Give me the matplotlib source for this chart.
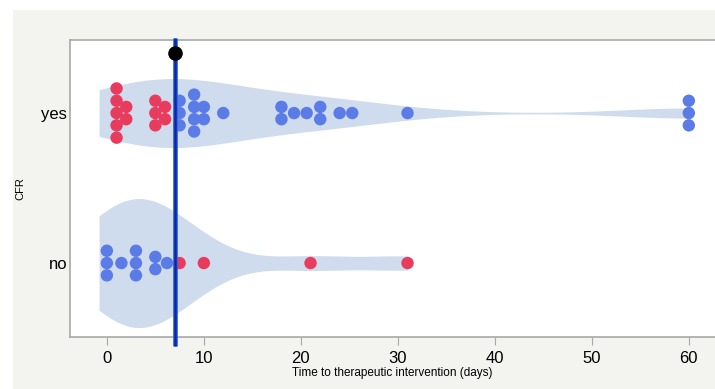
import numpy as np
import matplotlib
matplotlib.use("Agg")
import matplotlib.pyplot as plt
from matplotlib.patches import Rectangle
from matplotlib import font_manager

# ---------------- data ----------------
categories = ["no", "yes"]
yes_days = [1, 1, 1, 1, 1, 2, 2, 5, 5, 5, 6, 6, 7.5, 7.5, 7.5, 9, 9, 9, 9,
            10, 10, 12, 18, 18, 19.3, 20.6, 22, 22, 24, 25.3, 31, 60, 60, 60]
yes_late = [0] * 12 + [1] * 22
no_days = [0, 0, 0, 1.5, 3, 3, 3, 5, 5, 6.2, 7.5, 10, 21, 31]
no_late = [0] * 10 + [1] * 4
threshold_day = 7
xticks = [0, 10, 20, 30, 40, 50, 60]
xlabel = "Time to therapeutic intervention (days)"
ylabel = "CFR"

# ---------------- style ----------------
RED = "#e83c5e"
BLUE = "#5b7be6"
VIOLIN = "#cfdcee"
LINE = "#0b2a9e"
LINE_EDGE = "#2f63e6"
BG = "#f3f3ef"
SANS = ["Liberation Sans", "DejaVu Sans"]

names = {f.name for f in font_manager.fontManager.ttflist}
if "Liberation Sans Narrow" in names:
    xl_family, xl_size = ["Liberation Sans Narrow", "DejaVu Sans"], 10.3
else:
    xl_family, xl_size = SANS, 8.5

fig = plt.figure(figsize=(7.15, 3.89), dpi=100, facecolor="white")
fig.patches.append(Rectangle((13 / 715, 0), 1, (389 - 10) / 389,
                             transform=fig.transFigure, facecolor=BG,
                             edgecolor="none", zorder=-10))
ax = fig.add_axes([70 / 715, (389 - 337) / 389, 1 - 70 / 715, 297 / 389])
ax.set_facecolor("white")

def kde(data, grid, bw):
    d = np.asarray(data, float)
    return np.exp(-0.5 * ((grid[:, None] - d[None, :]) / bw) ** 2).sum(axis=1)

groups = [
    (no_days, no_late, 0, 0.43, 4.3),
    (yes_days, yes_late, 1, 0.23, 7.0),
]
kde_start = -0.8
step = 0.082  # vertical spacing of stacked dots

for days, late, ypos, halfw, bw in groups:
    grid = np.linspace(kde_start, max(days), 600)
    dens = kde(days, grid, bw)
    dens = dens / dens.max() * halfw
    ax.fill_between(grid, ypos - dens, ypos + dens, color=VIOLIN,
                    linewidth=0, zorder=1)
    days_arr = np.asarray(days, float)
    late_arr = np.asarray(late)
    red_flag = 1 if ypos == 0 else 0
    for v in np.unique(days_arr):
        idx = np.where(days_arr == v)[0]
        n = len(idx)
        offs = (np.arange(n) - (n - 1) / 2) * step
        cols = [RED if late_arr[i] == red_flag else BLUE for i in idx]
        ax.scatter(np.full(n, v), ypos + offs, s=80, c=cols,
                   edgecolors="none", zorder=3)

ax.plot([threshold_day, threshold_day], [-0.55, 1.5], color=LINE_EDGE, lw=3.4,
        zorder=4, clip_on=False, solid_capstyle="butt")
ax.plot([threshold_day, threshold_day], [-0.55, 1.5], color=LINE, lw=1.8,
        zorder=4, clip_on=False, solid_capstyle="butt")
ax.scatter([threshold_day], [1.4], s=90, color="black", zorder=5)

ax.set_xlim(-3.8, 62.7)
ax.set_ylim(-0.493, 1.487)
ax.set_yticks([0, 1])
ax.set_yticklabels(categories, fontsize=12, family=SANS)
ax.set_xticks(xticks)
ax.set_xticklabels([str(t) for t in xticks], fontsize=12, family=SANS)
ax.tick_params(axis="x", length=6, color="#a8a8a8", pad=4)
ax.tick_params(axis="y", length=0, pad=2)
ax.set_xlabel(xlabel, fontsize=xl_size, family=xl_family, labelpad=1)
ax.set_ylabel(ylabel, fontsize=8, family=SANS)
ax.yaxis.set_label_coords(-45 / 645, 0.5)
for s in ["top", "left", "bottom"]:
    ax.spines[s].set_color("#a8a8a8")
    ax.spines[s].set_linewidth(1.2)
ax.spines["right"].set_visible(False)

fig.savefig("out.png", dpi=100, facecolor=fig.get_facecolor())
